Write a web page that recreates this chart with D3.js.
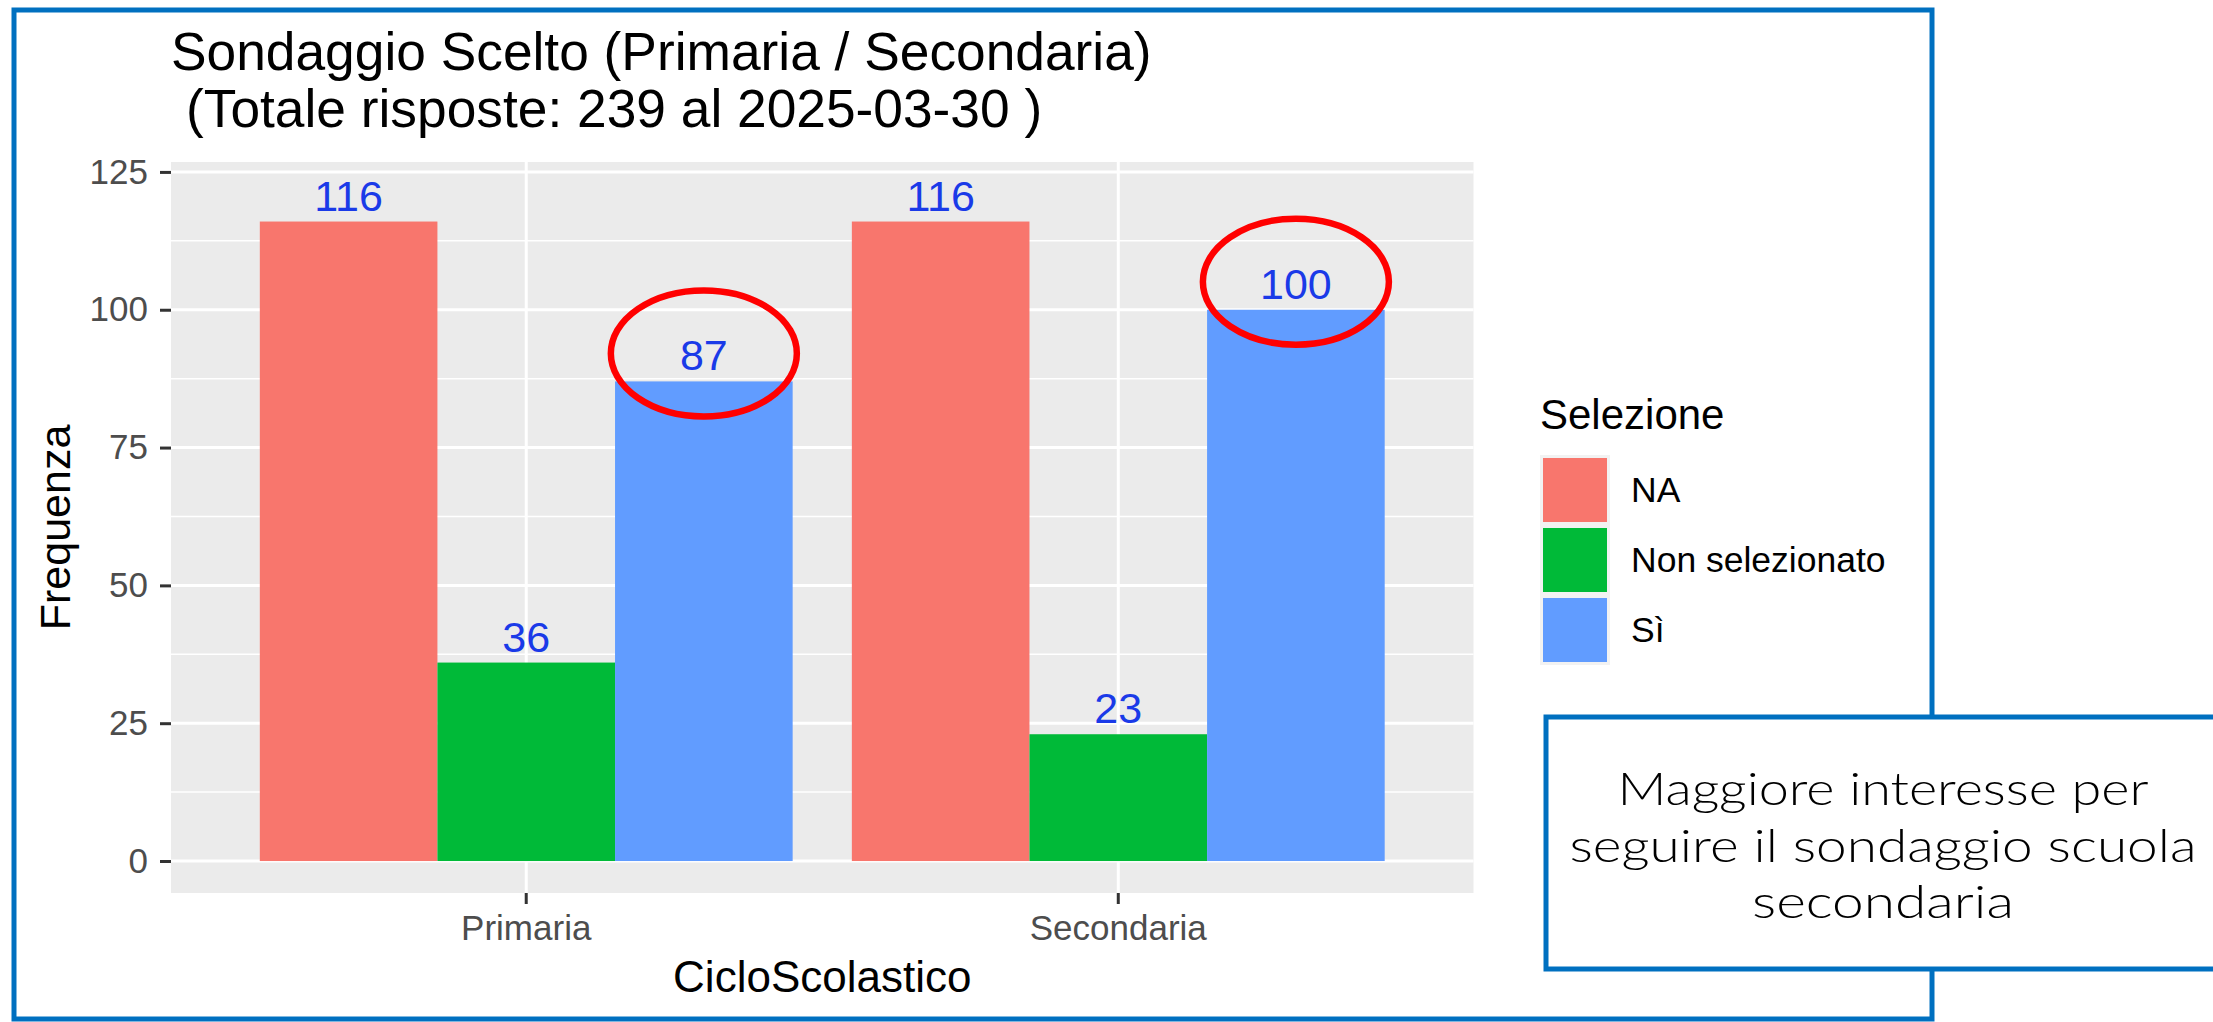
<!DOCTYPE html>
<html>
<head>
<meta charset="utf-8">
<script src="https://cdn.jsdelivr.net/npm/d3@7"></script>
<style>
body { margin: 0; background: #fff; }
svg { display: block; }
.tick text { font-family: "Liberation Sans", Arial, sans-serif; }
</style>
</head>
<body>
<svg id="chart" width="2213" height="1022"></svg>
<script>
// data
var categories = ["Primaria", "Secondaria"];
var selections = ["NA", "Non selezionato", "Sì"];
var naValues = [116, 116];
var nonSelValues = [36, 23];
var siValues = [87, 100];
var yTicks = [0, 25, 50, 75, 100, 125];
var colors = ["#F8766D", "#00BA38", "#619CFF"];
var titleLines = ["Sondaggio Scelto (Primaria / Secondaria)", "(Totale risposte: 239 al 2025-03-30 )"];
var noteLines = ["Maggiore interesse per", "seguire il sondaggio scuola", "secondaria"];
var circled = "Sì";

var font = "'Liberation Sans', Arial, sans-serif";
var svg = d3.select("#chart");

var panel = {left: 171, right: 1473.5, top: 162, bottom: 893};

var x = d3.scaleBand()
	.domain(categories)
	.range([panel.left, panel.right])
	.paddingInner(0.1)
	.paddingOuter(0.15);
var xSel = d3.scaleBand()
	.domain(selections)
	.range([0, x.bandwidth()]);
var y = d3.scaleLinear()
	.domain([-5.8, 126.8])
	.range([panel.bottom, panel.top]);

var rows = [];
categories.forEach(function(c, i) {
	rows.push({cat: c, sel: selections[0], v: naValues[i]});
	rows.push({cat: c, sel: selections[1], v: nonSelValues[i]});
	rows.push({cat: c, sel: selections[2], v: siValues[i]});
});
var color = d3.scaleOrdinal().domain(selections).range(colors);

// outer frame
svg.append("rect")
	.attr("x", 14).attr("y", 10)
	.attr("width", 1918).attr("height", 1009)
	.attr("fill", "none")
	.attr("stroke", "#0070C0")
	.attr("stroke-width", 5);

// title
svg.append("g").selectAll("text")
	.data(titleLines).enter()
	.append("text")
	.attr("x", function(d, i) { return i == 0 ? 171 : 186; })
	.attr("y", function(d, i) { return 70 + i * 57; })
	.attr("font-family", font)
	.attr("font-size", 53.3)
	.attr("fill", "#000")
	.text(function(d) { return d; });

// panel
svg.append("rect")
	.attr("x", panel.left).attr("y", panel.top)
	.attr("width", panel.right - panel.left)
	.attr("height", panel.bottom - panel.top)
	.attr("fill", "#EBEBEB");

var minor = d3.range(yTicks.length - 1).map(function(i) { return (yTicks[i] + yTicks[i + 1]) / 2; });
svg.append("g").selectAll("line")
	.data(minor).enter()
	.append("line")
	.attr("x1", panel.left).attr("x2", panel.right)
	.attr("y1", function(d) { return y(d); })
	.attr("y2", function(d) { return y(d); })
	.attr("stroke", "#fff")
	.attr("stroke-width", 1.5);
svg.append("g").selectAll("line")
	.data(yTicks).enter()
	.append("line")
	.attr("x1", panel.left).attr("x2", panel.right)
	.attr("y1", function(d) { return y(d); })
	.attr("y2", function(d) { return y(d); })
	.attr("stroke", "#fff")
	.attr("stroke-width", 3);
svg.append("g").selectAll("line")
	.data(categories).enter()
	.append("line")
	.attr("x1", function(d) { return x(d) + x.bandwidth() / 2; })
	.attr("x2", function(d) { return x(d) + x.bandwidth() / 2; })
	.attr("y1", panel.top).attr("y2", panel.bottom)
	.attr("stroke", "#fff")
	.attr("stroke-width", 3);

// bars
var bars = svg.append("g");
bars.selectAll("rect")
	.data(rows).enter()
	.append("rect")
	.attr("x", function(d) { return x(d.cat) + xSel(d.sel); })
	.attr("width", xSel.bandwidth())
	.attr("y", function(d) { return y(d.v); })
	.attr("height", function(d) { return y(0) - y(d.v); })
	.attr("fill", function(d) { return color(d.sel); });

bars.selectAll("text")
	.data(rows).enter()
	.append("text")
	.attr("x", function(d) { return x(d.cat) + xSel(d.sel) + xSel.bandwidth() / 2; })
	.attr("y", function(d) { return y(d.v) - 11; })
	.attr("text-anchor", "middle")
	.attr("font-family", font)
	.attr("font-size", 43)
	.attr("fill", "#1a3ae8")
	.text(function(d) { return d.v; });

// axes
var yAxis = svg.append("g")
	.attr("transform", "translate(" + panel.left + ",0)")
	.call(d3.axisLeft(y).tickValues(yTicks).tickSize(11).tickPadding(12));
var xAxis = svg.append("g")
	.attr("transform", "translate(0," + panel.bottom + ")")
	.call(d3.axisBottom(x).tickSize(11).tickPadding(11));
[yAxis, xAxis].forEach(function(a) {
	a.select(".domain").remove();
	a.selectAll(".tick line").attr("stroke", "#333").attr("stroke-width", 3);
	a.selectAll(".tick text").attr("fill", "#4D4D4D").attr("font-size", 35);
});
yAxis.selectAll(".tick text").attr("font-size", 35);

svg.append("text")
	.attr("transform", "translate(70," + (panel.top + panel.bottom) / 2 + ") rotate(-90)")
	.attr("text-anchor", "middle")
	.attr("font-family", font)
	.attr("font-size", 43)
	.text("Frequenza");
svg.append("text")
	.attr("x", (panel.left + panel.right) / 2)
	.attr("y", 992)
	.attr("text-anchor", "middle")
	.attr("font-family", font)
	.attr("font-size", 44)
	.text("CicloScolastico");

// legend
var legend = svg.append("g").attr("transform", "translate(1540,400)");
legend.append("text")
	.attr("x", 0).attr("y", 29)
	.attr("font-family", font)
	.attr("font-size", 42)
	.text("Selezione");
var keys = legend.selectAll(".key")
	.data(selections).enter()
	.append("g")
	.attr("class", "key")
	.attr("transform", function(d, i) { return "translate(0," + (55 + i * 70) + ")"; });
keys.append("rect")
	.attr("width", 70).attr("height", 70)
	.attr("fill", "#F2F2F2");
keys.append("rect")
	.attr("x", 3).attr("y", 3)
	.attr("width", 64).attr("height", 64)
	.attr("fill", function(d) { return color(d); });
keys.append("text")
	.attr("x", 91).attr("y", 47)
	.attr("font-family", font)
	.attr("font-size", 35.5)
	.text(function(d) { return d; });

// red circles on the Sì labels
svg.append("g").selectAll("ellipse")
	.data(rows.filter(function(d) { return d.sel == circled; })).enter()
	.append("ellipse")
	.attr("cx", function(d) { return x(d.cat) + xSel(d.sel) + xSel.bandwidth() / 2; })
	.attr("cy", function(d) { return y(d.v) - 28; })
	.attr("rx", 93).attr("ry", 63)
	.attr("fill", "none")
	.attr("stroke", "#FF0000")
	.attr("stroke-width", 6.5);

// note box
svg.append("rect")
	.attr("x", 1546).attr("y", 717)
	.attr("width", 800).attr("height", 252)
	.attr("fill", "#fff")
	.attr("stroke", "#0070C0")
	.attr("stroke-width", 5);
var noteWidths = [531, 627, 262];
svg.append("g").selectAll("text")
	.data(noteLines).enter()
	.append("text")
	.attr("x", 1883)
	.attr("y", function(d, i) { return 805 + i * 56.5; })
	.attr("text-anchor", "middle")
	.attr("font-family", "Lato, 'Noto Sans', sans-serif")
	.attr("font-weight", 300)
	.attr("font-size", 46)
	.attr("textLength", function(d, i) { return noteWidths[i]; })
	.attr("lengthAdjust", "spacingAndGlyphs")
	.attr("fill", "#000")
	.text(function(d) { return d; });
</script>
</body>
</html>
